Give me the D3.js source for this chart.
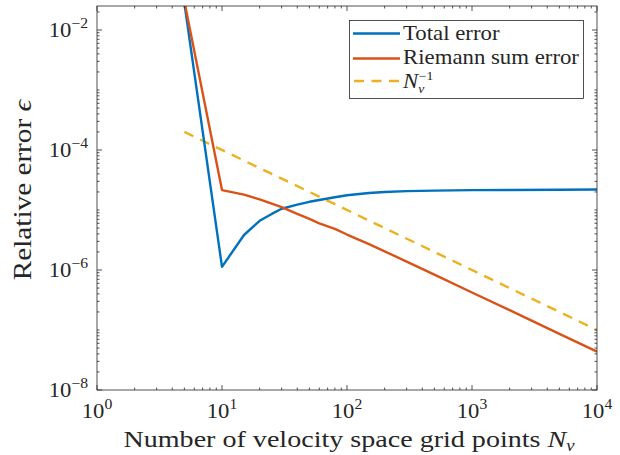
<!DOCTYPE html>
<html>
<head>
<meta charset="utf-8">
<script src="https://cdn.jsdelivr.net/npm/d3@7"></script>
<style>
  html, body { margin: 0; padding: 0; background: #fff; }
  svg { display: block; }
  text { font-family: "Liberation Serif", "Times New Roman", serif; fill: #262626; }
</style>
</head>
<body>
<svg id="chart" width="620" height="455"></svg>
<script>
// ---- data ----
const Nv = [5, 10, 15, 20, 25, 30, 40, 50, 60, 80, 100, 150, 200, 300, 500, 1000, 2000, 5000, 10000];
const totalErr = [2.8e-2, 1.13e-6, 3.83e-6, 6.6e-6, 8.6e-6, 1.05e-5, 1.23e-5, 1.37e-5, 1.47e-5, 1.63e-5, 1.76e-5, 1.92e-5, 1.99e-5, 2.06e-5, 2.10e-5, 2.14e-5, 2.16e-5, 2.18e-5, 2.19e-5];
const riemannErr = [3.0e-2, 2.15e-5, 1.8e-5, 1.5e-5, 1.28e-5, 1.12e-5, 8.6e-6, 7.1e-6, 6.0e-6, 4.85e-6, 3.9e-6, 2.7e-6, 2.05e-6, 1.38e-6, 8.4e-7, 4.22e-7, 2.14e-7, 8.6e-8, 4.35e-8];
const refN = [5, 10000];
const refErr = [2e-4, 1e-7];
const xTickExp = [0, 1, 2, 3, 4];
const yTickExp = [-8, -6, -4, -2];
const legendLabels = ["Total error", "Riemann sum error", "N_v^-1"];

// ---- layout ----
const L = 97, R = 597, T = 6, B = 390;
const colors = ["#0072BD", "#D95319", "#EDB120"];
const axisColor = "#262626";
const LW = 2.4;

const svg = d3.select("#chart");
const x = d3.scaleLog().domain([1, 1e4]).range([L, R]);
const y = d3.scaleLog().domain([1e-8, Math.pow(10, -1.6)]).range([B, T]);

svg.append("defs").append("clipPath").attr("id", "clip")
  .append("rect").attr("x", L).attr("y", T).attr("width", R - L).attr("height", B - T);

// helper: serif text, horizontally stretched to mimic Computer Modern widths
function addText(parent, px, py, opts, parts) {
  const g = parent.append("g")
    .attr("transform", `translate(${px},${py})` + (opts.rotate ? ` rotate(${opts.rotate})` : "") + ` scale(${opts.stretch || 1.14},1)`);
  const t = g.append("text").attr("text-anchor", opts.anchor || "start")
    .style("font-size", (opts.size || 20) + "px");
  parts.forEach(p => {
    const s = t.append("tspan").text(p.t);
    if (p.italic) s.style("font-style", "italic");
    if (p.size) s.style("font-size", p.size + "px");
    if (p.dy) s.attr("dy", p.dy);
    if (p.dx) s.attr("dx", p.dx);
  });
  return t;
}

// ---- lines ----
const line = d3.line().x(d => x(d[0])).y(d => y(d[1]));
const plot = svg.append("g").attr("clip-path", "url(#clip)");
plot.append("path").datum(refN.map((n, i) => [n, refErr[i]]))
  .attr("d", line).attr("fill", "none").attr("stroke", colors[2])
  .attr("stroke-width", LW).attr("stroke-dasharray", "10,7.5");
plot.append("path").datum(Nv.map((n, i) => [n, totalErr[i]]))
  .attr("d", line).attr("fill", "none").attr("stroke", colors[0])
  .attr("stroke-width", LW).attr("stroke-linejoin", "round");
plot.append("path").datum(Nv.map((n, i) => [n, riemannErr[i]]))
  .attr("d", line).attr("fill", "none").attr("stroke", colors[1])
  .attr("stroke-width", LW).attr("stroke-linejoin", "round");

// ---- axes box & ticks ----
const ax = svg.append("g").attr("stroke", axisColor).attr("stroke-width", 0.8).attr("fill", "none");
ax.append("rect").attr("x", L).attr("y", T).attr("width", R - L).attr("height", B - T);

const MAJ = 5, MIN = 2.5;
const xMajor = xTickExp.map(e => Math.pow(10, e));
const xMinor = [];
for (let e = 0; e < 4; e++) for (let k = 2; k <= 9; k++) xMinor.push(k * Math.pow(10, e));
xMajor.forEach(v => {
  ax.append("line").attr("x1", x(v)).attr("x2", x(v)).attr("y1", B).attr("y2", B - MAJ);
  ax.append("line").attr("x1", x(v)).attr("x2", x(v)).attr("y1", T).attr("y2", T + MAJ);
});
xMinor.forEach(v => {
  ax.append("line").attr("x1", x(v)).attr("x2", x(v)).attr("y1", B).attr("y2", B - MIN);
  ax.append("line").attr("x1", x(v)).attr("x2", x(v)).attr("y1", T).attr("y2", T + MIN);
});
const yMajor = yTickExp.map(e => Math.pow(10, e));
const yMinor = [];
for (let e = -8; e < -1; e++) for (let k = 1; k <= 9; k++) {
  const v = k * Math.pow(10, e);
  if (yTickExp.includes(e) && k === 1) continue;
  if (v <= y.domain()[1]) yMinor.push(v);
}
yMajor.forEach(v => {
  ax.append("line").attr("y1", y(v)).attr("y2", y(v)).attr("x1", L).attr("x2", L + MAJ);
  ax.append("line").attr("y1", y(v)).attr("y2", y(v)).attr("x1", R).attr("x2", R - MAJ);
});
yMinor.forEach(v => {
  ax.append("line").attr("y1", y(v)).attr("y2", y(v)).attr("x1", L).attr("x2", L + MIN);
  ax.append("line").attr("y1", y(v)).attr("y2", y(v)).attr("x1", R).attr("x2", R - MIN);
});

// tick labels
const fmtExp = e => (e < 0 ? "\u2212" + Math.abs(e) : String(e));
xTickExp.forEach(e => {
  addText(svg, x(Math.pow(10, e)), 418, { anchor: "middle", size: 21, stretch: 1.08 },
    [{ t: "10" }, { t: fmtExp(e), size: 14.5, dy: -9.5 }]);
});
yTickExp.forEach(e => {
  addText(svg, 88, y(Math.pow(10, e)) + 7, { anchor: "end", size: 21, stretch: 1.08 },
    [{ t: "10" }, { t: fmtExp(e), size: 14.5, dy: -9.5 }]);
});

// axis labels
addText(svg, 349, 447, { anchor: "middle", size: 24, stretch: 1.17 },
  [{ t: "Number of velocity space grid points " }, { t: "N", italic: true }, { t: "v", italic: true, size: 16, dy: 4 }]);
addText(svg, 31, 190, { anchor: "middle", size: 25, stretch: 1.17, rotate: -90 },
  [{ t: "Relative error " }, { t: "\u03F5", italic: true }]);

// ---- legend ----
const lg = svg.append("g");
lg.append("rect").attr("x", 349.5).attr("y", 20.5).attr("width", 234).attr("height", 78)
  .attr("fill", "#fff").attr("stroke", axisColor).attr("stroke-width", 0.8);
const rowsY = [33.5, 58.5, 81];
const baseY = [39.5, 63.5, 88];
legendLabels.forEach((lab, i) => {
  const l = lg.append("line").attr("x1", 353).attr("x2", 400).attr("y1", rowsY[i]).attr("y2", rowsY[i])
    .attr("stroke", colors[i]).attr("stroke-width", LW);
  if (i === 2) l.attr("stroke-dasharray", "10,7.5").attr("x1", 354);
  if (i < 2) {
    addText(lg, 403, baseY[i], { size: 20, stretch: 1.14 }, [{ t: lab }]);
  } else {
    // N_v^{-1}: one text element; superscript repositioned above the subscript
    const t = addText(lg, 403, baseY[i], { size: 20, stretch: 1.14 }, [{ t: "N", italic: true }]);
    const wN = t.select("tspan").node().getComputedTextLength();
    t.append("tspan").text("v").style("font-style", "italic").style("font-size", "12px").attr("dy", 5);
    t.append("tspan").text("\u22121").style("font-size", "12px").attr("x", wN + 0.5).attr("dy", -13.5);
  }
});
</script>
</body>
</html>
